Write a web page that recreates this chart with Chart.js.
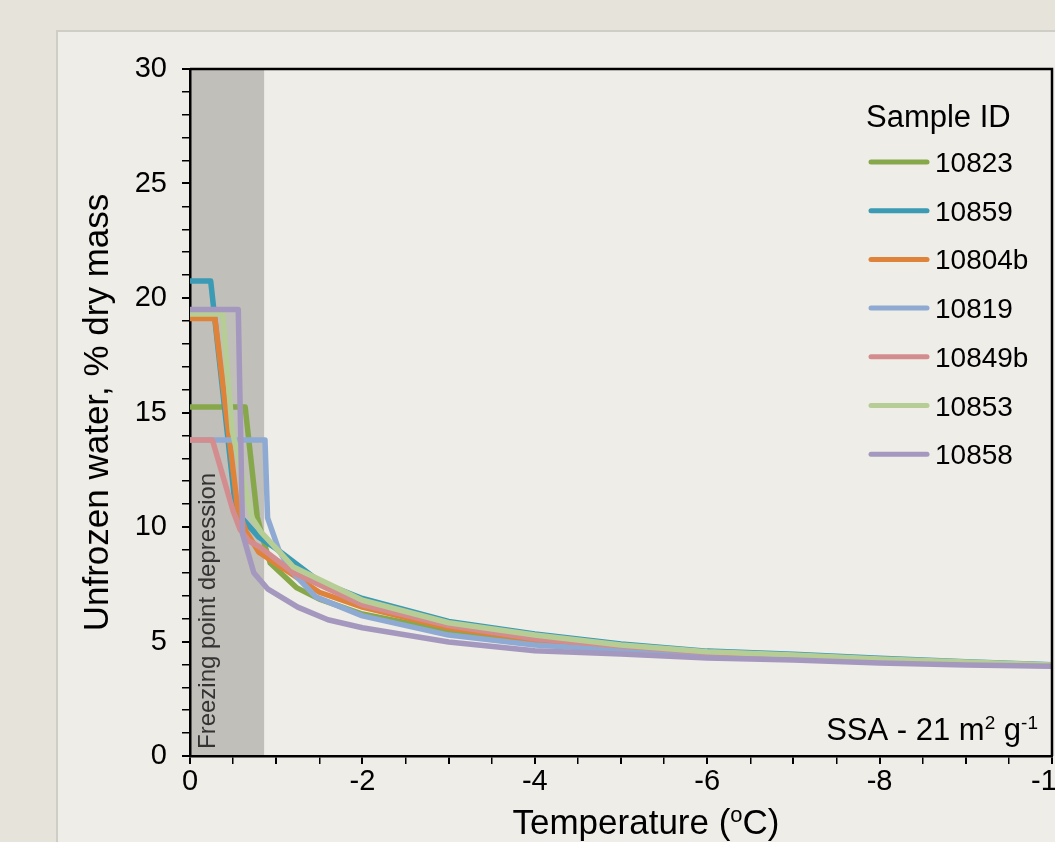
<!DOCTYPE html>
<html>
<head>
<meta charset="utf-8">
<title>Unfrozen water</title>
<script src="https://cdn.jsdelivr.net/npm/chart.js@4.4.1/dist/chart.umd.min.js"></script>
<style>
  html, body { margin: 0; padding: 0; width: 1055px; height: 842px; overflow: hidden; background: #e6e4da; }
  #panel { position: absolute; left: 56px; top: 30px; width: 1100px; height: 900px; background: #efede7;
           border-left: 2px solid #cfcec6; border-top: 2px solid #cfcec6; }
  #wrap { position: absolute; left: 0; top: 0; width: 1110px; height: 842px; }
</style>
</head>
<body>
<div id="panel"></div>
<div id="wrap"><canvas id="unfrozen" width="1110" height="842"></canvas></div>
<script>
// sample ids and colours
const sampleIds = ['10823', '10859', '10804b', '10819', '10849b', '10853', '10858'];
const sampleColors = ['#87a84a', '#3b9ab4', '#e0833a', '#8eaad3', '#d48d8f', '#b6ce95', '#a598bf'];

// temperature (oC) and unfrozen water (% dry mass) per sample
const temp10823 = [0, -0.64, -0.78, -0.85, -0.93, -1.24, -1.5, -2, -3, -4, -5, -6, -7, -8, -9, -10];
const water10823 = [15.24, 15.24, 10.44, 9.43, 8.43, 7.34, 6.85, 6.2, 5.45, 4.98, 4.68, 4.45, 4.28, 4.14, 4.03, 3.95];

const temp10859 = [0, -0.24, -0.52, -0.6, -0.8, -1, -1.5, -2, -3, -4, -5, -6, -7, -8, -9, -10];
const water10859 = [20.74, 20.74, 11.1, 10.4, 9.55, 9.05, 7.62, 6.88, 5.88, 5.33, 4.89, 4.58, 4.44, 4.27, 4.12, 3.98];

const temp10804b = [0, -0.29, -0.55, -0.65, -0.8, -1, -1.5, -2, -3, -4, -5, -6, -7, -8, -9, -10];
const water10804b = [19.1, 19.1, 10.9, 9.8, 8.9, 8.4, 7.15, 6.5, 5.6, 5.08, 4.76, 4.5, 4.32, 4.17, 4.06, 3.96];

const temp10819 = [0, -0.87, -0.9, -1.03, -1.17, -1.46, -2, -3, -4, -5, -6, -7, -8, -9, -10];
const water10819 = [13.8, 13.8, 10.4, 9.0, 8.1, 6.95, 6.12, 5.28, 4.85, 4.62, 4.4, 4.25, 4.12, 4.02, 3.94];

const temp10849b = [0, -0.26, -0.5, -0.58, -0.68, -0.82, -1.2, -2, -3, -4, -5, -6, -7, -8, -9, -10];
const water10849b = [13.8, 13.8, 10.7, 9.9, 9.4, 9.1, 8.0, 6.6, 5.7, 5.12, 4.8, 4.52, 4.34, 4.19, 4.07, 3.96];

const temp10853 = [0, -0.38, -0.49, -0.72, -0.82, -1.2, -2, -3, -4, -5, -6, -7, -8, -9, -10];
const water10853 = [19.3, 19.3, 14.2, 10.4, 9.8, 8.25, 6.8, 5.82, 5.28, 4.85, 4.55, 4.41, 4.24, 4.1, 3.97];

const temp10858 = [0, -0.56, -0.61, -0.74, -0.9, -1.25, -1.6, -2, -3, -4, -5, -6, -7, -8, -9, -10];
const water10858 = [19.5, 19.5, 9.7, 8.0, 7.3, 6.5, 5.95, 5.6, 4.98, 4.6, 4.45, 4.28, 4.19, 4.06, 3.97, 3.92];

const sampleTemps = [temp10823, temp10859, temp10804b, temp10819, temp10849b, temp10853, temp10858];
const sampleWater = [water10823, water10859, water10804b, water10819, water10849b, water10853, water10858];

// shaded band (oC)
const depressionRange = [0, -0.86];

const FONT = '"Liberation Sans", Arial, sans-serif';
Chart.defaults.font.family = FONT;
Chart.defaults.color = '#000';

const datasets = sampleIds.map((id, i) => ({
  label: id,
  data: sampleTemps[i].map((t, j) => ({ x: t, y: sampleWater[i][j] })),
  borderColor: sampleColors[i],
  backgroundColor: sampleColors[i],
  borderWidth: 5.5,
  pointRadius: 0,
  tension: 0,
  borderJoinStyle: 'round',
  borderCapStyle: 'round',
  order: sampleIds.length - i
}));

const decorations = {
  id: 'decorations',
  beforeDraw(chart) {
    const { ctx, chartArea, scales: { x } } = chart;
    const x0 = x.getPixelForValue(depressionRange[0]);
    const x1 = x.getPixelForValue(depressionRange[1]);
    ctx.save();
    ctx.fillStyle = '#c0bfba';
    ctx.fillRect(x0, chartArea.top, x1 - x0, chartArea.bottom - chartArea.top);

    // rotated label in the band
    ctx.translate(x0 + 25, chartArea.bottom - 7);
    ctx.rotate(-Math.PI / 2);
    ctx.fillStyle = '#333';
    ctx.font = '24px ' + FONT;
    ctx.textAlign = 'left';
    ctx.textBaseline = 'alphabetic';
    ctx.fillText('Freezing point depression', 0, 0);
    ctx.restore();
  },
  afterDraw(chart) {
    const { ctx, chartArea } = chart;
    ctx.save();
    // top and right frame
    ctx.strokeStyle = '#000';
    ctx.lineWidth = 2.5;
    ctx.beginPath();
    ctx.moveTo(chartArea.left, chartArea.top);
    ctx.lineTo(chartArea.right, chartArea.top);
    ctx.lineTo(chartArea.right, chartArea.bottom);
    ctx.stroke();

    // legend
    ctx.fillStyle = '#000';
    ctx.textAlign = 'left';
    ctx.textBaseline = 'alphabetic';
    ctx.font = '31px ' + FONT;
    ctx.fillText('Sample ID', 866, 127);
    ctx.font = '28px ' + FONT;
    ctx.lineCap = 'round';
    ctx.lineWidth = 5;
    sampleIds.forEach((id, i) => {
      const y = 162 + i * 48.7;
      ctx.strokeStyle = sampleColors[i];
      ctx.beginPath();
      ctx.moveTo(871, y);
      ctx.lineTo(927, y);
      ctx.stroke();
      ctx.fillStyle = '#000';
      ctx.fillText(id, 935, y + 10);
    });

    // SSA note with superscripts
    const big = '31px ' + FONT, small = '19px ' + FONT;
    const parts = [['SSA - 21 m', big, 0], ['2', small, -11], [' g', big, 0], ['-1', small, -11]];
    let w = 0;
    parts.forEach(p => { ctx.font = p[1]; w += ctx.measureText(p[0]).width; });
    let px = 1038 - w;
    parts.forEach(p => { ctx.font = p[1]; ctx.fillText(p[0], px, 740 + p[2]); px += ctx.measureText(p[0]).width; });

    // x axis title with superscript o
    const tbig = '35px ' + FONT, tsmall = '22px ' + FONT;
    const tparts = [['Temperature (', tbig, 0], ['o', tsmall, -12], ['C)', tbig, 0]];
    w = 0;
    tparts.forEach(p => { ctx.font = p[1]; w += ctx.measureText(p[0]).width; });
    px = 646 - w / 2;
    tparts.forEach(p => { ctx.font = p[1]; ctx.fillText(p[0], px, 834 + p[2]); px += ctx.measureText(p[0]).width; });
    ctx.restore();
  }
};

new Chart(document.getElementById('unfrozen').getContext('2d'), {
  type: 'line',
  data: { datasets: datasets },
  options: {
    responsive: false,
    animation: false,
    devicePixelRatio: 1,
    layout: { padding: { left: 0, top: 69, right: 58, bottom: 0 } },
    plugins: { legend: { display: false }, tooltip: { enabled: false } },
    scales: {
      x: {
        type: 'linear',
        reverse: true,
        min: -10,
        max: 0,
        afterFit: s => { s.height = 86; },
        ticks: {
          stepSize: 0.5,
          autoSkip: false,
          maxRotation: 0,
          padding: 1,
          font: { size: 29 },
          color: '#000',
          callback: v => (v % 2 === 0 ? String(v) : '')
        },
        grid: {
          drawOnChartArea: false,
          drawTicks: true,
          tickLength: 8,
          color: '#000',
          lineWidth: c => (Number.isInteger(c.tick && c.tick.value) ? 2 : 1.5)
        },
        border: { display: true, color: '#000', width: 2.5 }
      },
      y: {
        min: 0,
        max: 30,
        afterFit: s => { s.width = 190; },
        ticks: {
          stepSize: 1,
          autoSkip: false,
          padding: 15,
          font: { size: 29 },
          color: '#000',
          callback: v => (v % 5 === 0 ? String(v) : '')
        },
        grid: {
          drawOnChartArea: false,
          drawTicks: true,
          tickLength: 8,
          color: '#000',
          lineWidth: c => (c.tick && c.tick.value % 5 === 0 ? 2 : 1.5)
        },
        border: { display: true, color: '#000', width: 2.5 },
        title: {
          display: true,
          text: 'Unfrozen water, % dry mass',
          font: { size: 35 },
          color: '#000',
          padding: { top: 77, bottom: 0 }
        }
      }
    }
  },
  plugins: [decorations]
});
</script>
</body>
</html>
